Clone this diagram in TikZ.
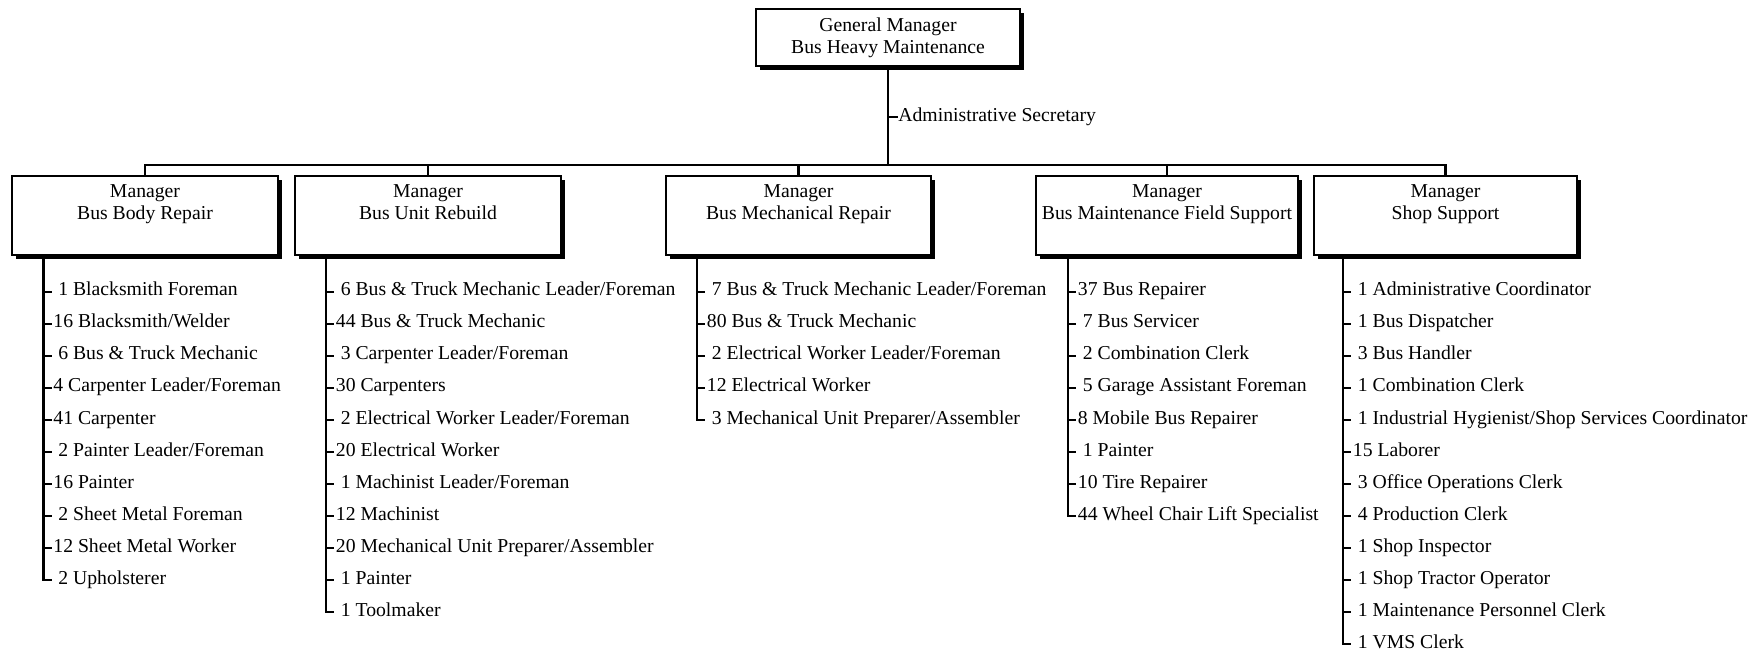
\documentclass[tikz,border=0pt]{standalone}
\usepackage{fontspec}
\setmainfont{Liberation Serif}
\usetikzlibrary{shadows}
\newcommand\orgfont{\fontsize{9.85pt}{11pt}\selectfont}
\newcommand\pd{\hspace*{0.25em}}
\newcommand\stafflist[4]{% #1 prefix, #2 line x, #3 top node, #4 list
  \foreach \t [count=\k from 0] in {#4} {
    \node[staff] (#1-\k) at ({#2+9.5},{296+32*\k}) {\t};
    \draw[conn] (#2,{292+32*\k}) -- ++(8,0);
    \xdef\lastk{\k}
  }
  \draw[conn] (#3.south -| #2,0) -- (#2,{292+32*\lastk}) -- ++(8,0);
}
\begin{document}
\begin{tikzpicture}[x=0.5pt,y=-0.5pt,
  orgbox/.style={draw, line width=1.3pt, fill=white, inner sep=0pt, font=\orgfont, align=center,
    drop shadow={shadow xshift=2.2pt, shadow yshift=-2.2pt, opacity=1, fill=black}},
  mgr/.style={orgbox, minimum height=39.5pt},
  mgrtitle/.style={font=\orgfont, align=center, inner sep=0pt, anchor=north},
  conn/.style={line width=1.4pt},
  staff/.style={font=\orgfont, inner sep=0pt, anchor=base west},
]
\useasboundingbox (0,0) rectangle (1764,651);
\fill[white] (0,0) rectangle (1764,651);

% boxes
\node[orgbox, minimum width=132pt, minimum height=28.5pt] (gm) at (888,37.5) {General Manager\\Bus Heavy Maintenance};
\node[mgr, minimum width=133pt] (m1) at (145,215.5) {};
\node[mgr, minimum width=133pt] (m2) at (428,215.5) {};
\node[mgr, minimum width=132.5pt] (m3) at (798.5,215.5) {};
\node[mgr, minimum width=131pt] (m4) at (1167,215.5) {};
\node[mgr, minimum width=131.5pt] (m5) at (1445.5,215.5) {};
\node[mgrtitle] (t1) at ([yshift=-4.8pt]m1.north) {Manager\\Bus Body Repair};
\node[mgrtitle] (t2) at ([yshift=-4.8pt]m2.north) {Manager\\Bus Unit Rebuild};
\node[mgrtitle] (t3) at ([yshift=-4.8pt]m3.north) {Manager\\Bus Mechanical Repair};
\node[mgrtitle] (t4) at ([yshift=-4.8pt]m4.north) {Manager\\Bus Maintenance Field Support};
\node[mgrtitle] (t5) at ([yshift=-4.8pt]m5.north) {Manager\\Shop Support};

% connectors
\coordinate (bus) at (gm.south |- 0,165);
\draw[conn] (gm.south) -- (bus);
\draw[conn] (m1.north) |- (bus) -| (m5.north);
\draw[conn] (m2.north) -- (m2.north |- bus);
\draw[conn] (m3.north) -- (m3.north |- bus);
\draw[conn] (m4.north) -- (m4.north |- bus);

\node[staff] (sec) at (898,121.5) {Administrative Secretary};
\coordinate (sect) at (gm.south |- 0,117);
\draw[conn] (sect) -- (sect -| sec.west);

% staff lists
\stafflist{a}{43.5}{m1}{{\pd 1 Blacksmith Foreman},{16 Blacksmith/Welder},{\pd 6 Bus \& Truck Mechanic},{4 Carpenter Leader/Foreman},{41 Carpenter},{\pd 2 Painter Leader/Foreman},{16 Painter},{\pd 2 Sheet Metal Foreman},{12 Sheet Metal Worker},{\pd 2 Upholsterer}}
\stafflist{b}{326}{m2}{{\pd 6 Bus \& Truck Mechanic Leader/Foreman},{44 Bus \& Truck Mechanic},{\pd 3 Carpenter Leader/Foreman},{30 Carpenters},{\pd 2 Electrical Worker Leader/Foreman},{20 Electrical Worker},{\pd 1 Machinist Leader/Foreman},{12 Machinist},{20 Mechanical Unit Preparer/Assembler},{\pd 1 Painter},{\pd 1 Toolmaker}}
\stafflist{c}{697}{m3}{{\pd 7 Bus \& Truck Mechanic Leader/Foreman},{80 Bus \& Truck Mechanic},{\pd 2 Electrical Worker Leader/Foreman},{12 Electrical Worker},{\pd 3 Mechanical Unit Preparer/Assembler}}
\stafflist{d}{1068}{m4}{{37 Bus Repairer},{\pd 7 Bus Servicer},{\pd 2 Combination Clerk},{\pd 5 Garage Assistant Foreman},{8 Mobile Bus Repairer},{\pd 1 Painter},{10 Tire Repairer},{44 Wheel Chair Lift Specialist}}
\stafflist{e}{1343}{m5}{{\pd 1 Administrative Coordinator},{\pd 1 Bus Dispatcher},{\pd 3 Bus Handler},{\pd 1 Combination Clerk},{\pd 1 Industrial Hygienist/Shop Services Coordinator},{15 Laborer},{\pd 3 Office Operations Clerk},{\pd 4 Production Clerk},{\pd 1 Shop Inspector},{\pd 1 Shop Tractor Operator},{\pd 1 Maintenance Personnel Clerk},{\pd 1 VMS Clerk}}
\end{tikzpicture}
\end{document}
